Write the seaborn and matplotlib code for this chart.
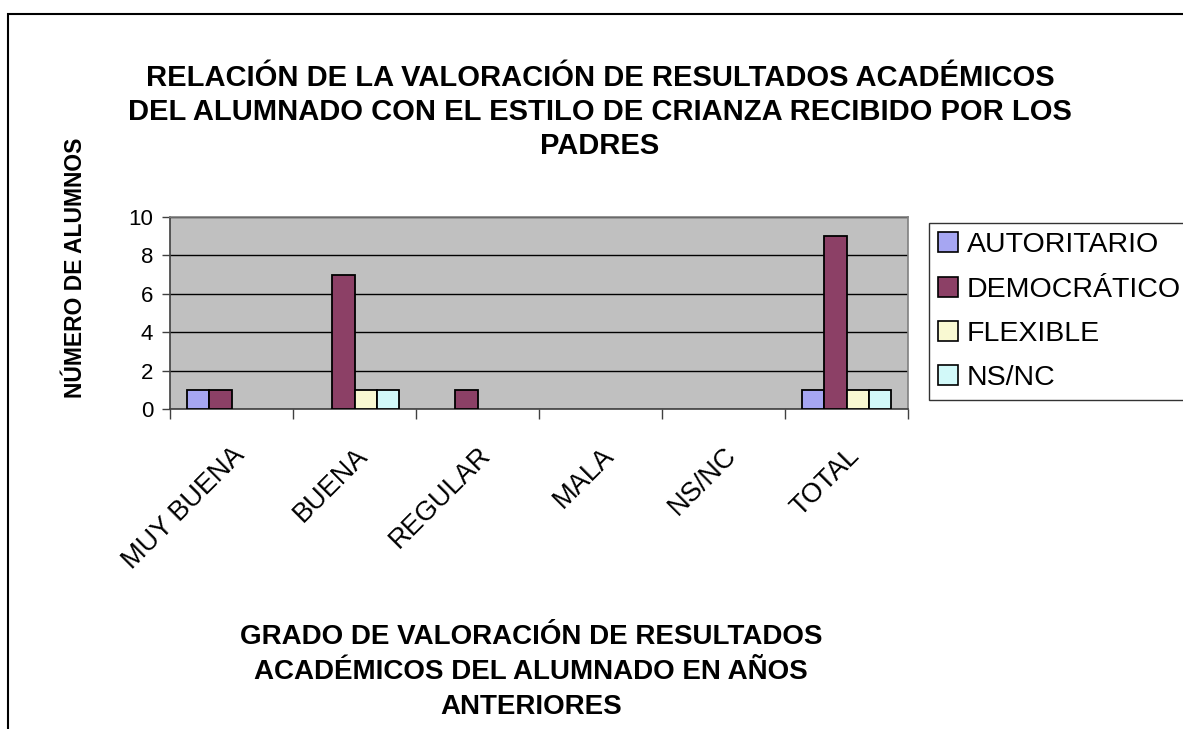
import numpy as np
import pandas as pd
import matplotlib.pyplot as plt
import seaborn as sns
from matplotlib.patches import Rectangle
from matplotlib.ticker import FixedLocator

# ── data ─────────────────────────────────────────────────────
grados = ["MUY BUENA", "BUENA", "REGULAR", "MALA", "NS/NC", "TOTAL"]
estilos = ["AUTORITARIO", "DEMOCRÁTICO", "FLEXIBLE", "NS/NC"]
autoritario = [1, 0, 0, 0, 0, 1]
democratico = [1, 7, 1, 0, 0, 9]
flexible = [0, 1, 0, 0, 0, 1]
nsnc = [0, 1, 0, 0, 0, 1]

colores = ["#9999FF", "#993366", "#FFFFCC", "#CCFFFF"]

df = pd.DataFrame({
    "grado": grados * 4,
    "estilo": np.repeat(estilos, len(grados)),
    "alumnos": autoritario + democratico + flexible + nsnc,
})
df_plot = df[df["alumnos"] > 0]

# ── plot ─────────────────────────────────────────────────────
sns.set_style("white")
plt.rcParams["font.family"] = ["Liberation Sans", "DejaVu Sans"]
plt.rcParams["text.color"] = "black"
plt.rcParams["xtick.color"] = "black"
plt.rcParams["ytick.color"] = "black"

W, H = 1183, 729
fig = plt.figure(figsize=(W / 100, H / 100), dpi=100)
ax = fig.add_axes([170 / W, 1 - 409 / H, (908 - 170) / W, (409 - 217) / H])
ax.set_facecolor("#C0C0C0")

sns.barplot(data=df_plot, x="grado", y="alumnos", hue="estilo",
            order=grados, hue_order=estilos, palette=colores,
            width=0.73, edgecolor="black", linewidth=1.3,
            errorbar=None, ax=ax, zorder=3)

ax.set_ylim(0, 10)
ax.set_yticks([0, 2, 4, 6, 8, 10])
ax.set_xlim(-0.5, len(grados) - 0.5)
ax.yaxis.grid(True, color="black", linewidth=1)
ax.set_axisbelow(True)
ax.set_xlabel("")
ax.set_ylabel("")

for s in ["top", "right"]:
    ax.spines[s].set_color("#808080")
    ax.spines[s].set_linewidth(1.2)
for s in ["left", "bottom"]:
    ax.spines[s].set_color("#404040")
    ax.spines[s].set_linewidth(1.2)

ax.tick_params(axis="y", which="major", length=6, width=1, color="#404040",
               labelsize=16, labelcolor="black", pad=6, left=True)
ax.set_xticks(range(len(grados)))
ax.set_xticklabels(grados, rotation=45, ha="right", rotation_mode="anchor",
                   fontsize=19.5, color="black")
ax.tick_params(axis="x", which="major", length=0, pad=24)
ax.xaxis.set_minor_locator(FixedLocator(np.arange(-0.5, len(grados), 1.0)))
ax.tick_params(axis="x", which="minor", length=7, width=1, color="#404040",
               bottom=True)

leg = ax.legend(loc="upper left", bbox_to_anchor=(929 / W, 1 - 223 / H),
                bbox_transform=fig.transFigure, frameon=True, fancybox=False,
                fontsize=20.5, handlelength=0.7, handleheight=0.7,
                handletextpad=0.3, labelspacing=0.64, borderpad=0.33,
                borderaxespad=0)
leg.get_frame().set_edgecolor("black")
leg.get_frame().set_linewidth(1)
for h in leg.legend_handles:
    h.set_edgecolor("black")
    h.set_linewidth(1.2)
for t in leg.get_texts():
    t.set_color("black")

fig.text(600 / W, 1 - 112 / H,
         "RELACIÓN DE LA VALORACIÓN DE RESULTADOS ACADÉMICOS\n"
         "DEL ALUMNADO CON EL ESTILO DE CRIANZA RECIBIDO POR LOS\n"
         "PADRES",
         ha="center", va="center", fontsize=21, fontweight="bold",
         linespacing=1.26, color="black")
fig.text(75 / W, 1 - 268 / H, "NÚMERO DE ALUMNOS", rotation=90,
         ha="center", va="center", fontsize=16.5, fontweight="bold",
         color="black")
fig.text(531 / W, 1 - 672 / H,
         "GRADO DE VALORACIÓN DE RESULTADOS\n"
         "ACADÉMICOS DEL ALUMNADO EN AÑOS\n"
         "ANTERIORES",
         ha="center", va="center", fontsize=20, fontweight="bold",
         linespacing=1.46, color="black")

# outer chart border (runs off the right and bottom edges)
fig.patches.append(Rectangle((8 / W, -0.1), 1.2, 1 - 14 / H + 0.1,
                             transform=fig.transFigure, fill=False,
                             edgecolor="black", linewidth=1.5))

fig.savefig("out.png", dpi=100)
